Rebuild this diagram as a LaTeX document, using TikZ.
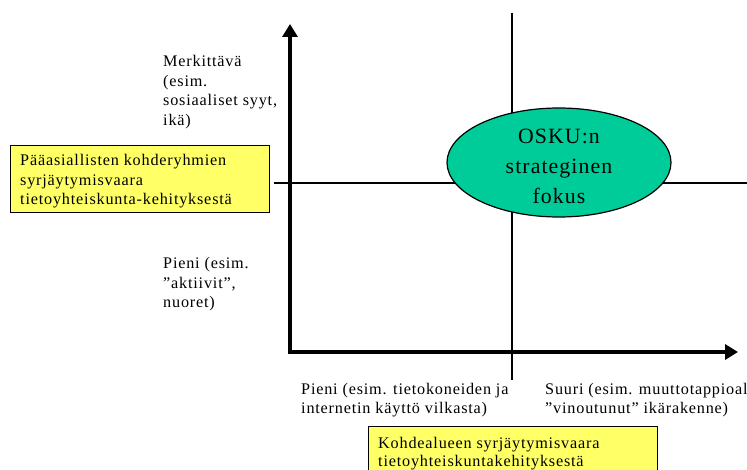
\documentclass[tikz,border=0pt]{standalone}
\usepackage{fontspec}
\setmainfont{Liberation Serif}
\newfontfamily\trackfont[LetterSpace=5]{Liberation Serif}
\usetikzlibrary{arrows.meta,shapes.geometric}
\definecolor{boxyellow}{HTML}{FFFF66}
\definecolor{focusgreen}{HTML}{00CC99}
\tikzset{
  lbl/.style={anchor=north west, inner sep=0pt, align=left, font=\trackfont\fontsize{16.2}{19.7}\selectfont},
  ybox/.style={draw=black, line width=1.2pt, fill=boxyellow, anchor=north west, inner sep=0pt},
  thinline/.style={line width=1.3pt},
  axis/.style={line width=4pt, {Triangle[width=15pt,length=13pt]}-{Triangle[width=15pt,length=13pt]}},
  focus/.style={ellipse, draw=black, line width=1.2pt, fill=focusgreen, inner sep=0pt},
  focustext/.style={align=center, inner sep=0pt, font=\trackfont\fontsize{21.8}{30}\selectfont}
}
\begin{document}
\begin{tikzpicture}[x=1pt,y=-1pt]
\useasboundingbox (0,0) rectangle (747,470);
\clip (0,0) rectangle (747,470);
% coordinates
\coordinate (ytip) at (290,24);
\coordinate (origin) at (290,352);
\coordinate (xtip) at (738,352);
\coordinate (vtop) at (512,13);
\coordinate (vbot) at (512,380);
\coordinate (hleft) at (274,183);
\coordinate (hright) at (747,183);
% thin quadrant lines
\draw[thinline] (vtop) -- (vbot);
\draw[thinline] (hleft) -- (hright);
% axes
\draw[axis] (ytip) -- (origin) -- (xtip);
% focus ellipse
\node[focus, minimum width=224pt, minimum height=109pt] (fokus) at (559,162.5) {};
\node[focustext] (fokustext) at (559,166) {OSKU:n\\strateginen\\fokus};
% y labels
\node[lbl] (merk) at (163,55) {Merkittävä\\(esim.\\sosiaaliset syyt,\\ikä)};
\node[lbl] (pieniy) at (163,257) {Pieni (esim.\\”aktiivit”,\\nuoret)};
% x labels
\node[lbl, font=\trackfont\fontsize{16.2}{19}\selectfont] (pienix) at (301,383) {Pieni (esim. tietokoneiden ja\\internetin käyttö vilkasta)};
\node[lbl, font=\trackfont\fontsize{16.2}{19}\selectfont] (suuri) at (545,383) {Suuri (esim. muuttotappioal\\”vinoutunut” ikärakenne)};
% yellow boxes
\node[ybox, minimum width=259pt, minimum height=67pt] (ybox) at (10,145) {};
\node[lbl] (yboxtext) at (20,154) {Pääasiallisten kohderyhmien\\syrjäytymisvaara\\tietoyhteiskunta-kehityksestä};
\node[ybox, minimum width=289pt, minimum height=60pt] (xbox) at (368,426) {};
\node[lbl, font=\trackfont\fontsize{16.2}{18.5}\selectfont] (xboxtext) at (378,437) {Kohdealueen syrjäytymisvaara\\tietoyhteiskuntakehityksestä};
\end{tikzpicture}
\end{document}
